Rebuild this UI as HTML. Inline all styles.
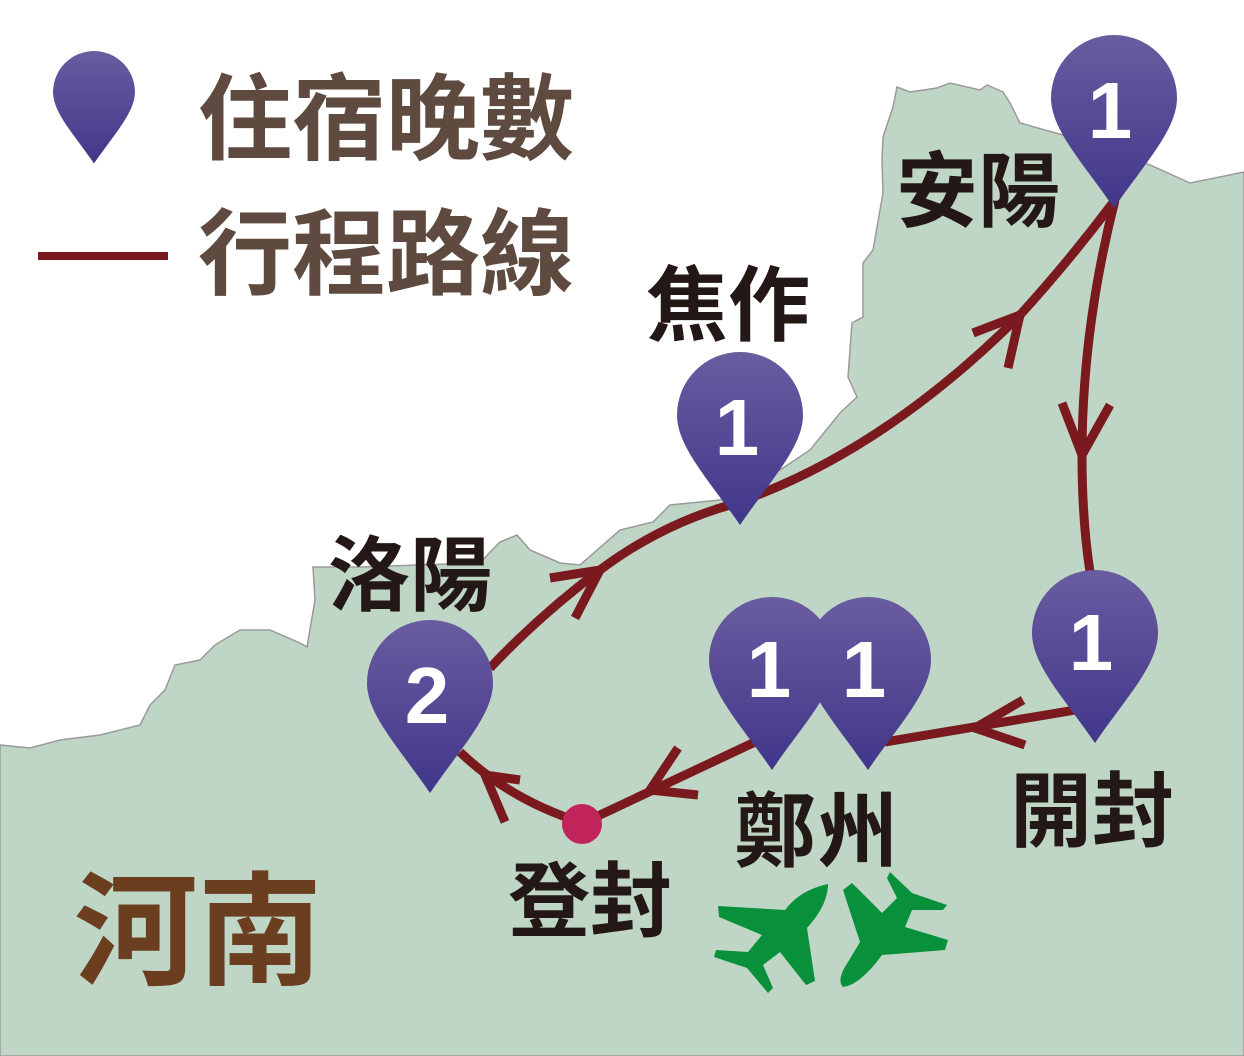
<!DOCTYPE html>
<html><head><meta charset="utf-8"><style>
html,body{margin:0;padding:0;background:#fff;}
svg{display:block;}
.t{font-family:"Liberation Sans","Noto Sans CJK TC",sans-serif;font-weight:bold;}
</style></head><body>
<svg width="1244" height="1056" viewBox="0 0 1244 1056" xmlns="http://www.w3.org/2000/svg">
<defs>
<linearGradient id="g" x1="0" y1="0" x2="0" y2="1">
<stop offset="0" stop-color="#6a5ca0"/><stop offset="1" stop-color="#42368a"/>
</linearGradient>
<path id="pin" d="M0,110 C-30,66 -63,32 -63,0 A63,63 0 1 1 63,0 C63,32 30,66 0,110 Z" fill="url(#g)"/>
</defs>
<path d="M0,745 L30,748 L60,740 L100,735 L140,725 L150,705 L165,690 L175,665 L200,660 L215,645 L240,630 L270,630 L300,643 L307,647 L315,600 L313,567 L360,567 L480,563 L492,550 L500,542 L517,535 L530,550 L560,563 L580,565 L620,530 L653,522 L670,505 L720,500 L780,470 L810,450 L840,413 L857,397 L848,377 L852,323 L863,317 L863,263 L873,250 L883,193 L882,160 L883,137 L893,107 L897,87 L910,92 L937,88 L950,83 L980,90 L987,85 L1003,92 L1010,103 L1020,123 L1070,137 L1120,155 L1150,165 L1190,183 L1205,180 L1244,172 L1244,1056 L0,1056 Z" fill="#bfd6c6" stroke="#9a9a9a" stroke-width="1.5"/>
<g fill="none" stroke="#7a1a1e" stroke-width="9" stroke-linecap="butt">
<path d="M490,668 Q540,615 600,570 Q660,525 730,505 Q880,455 1020,315 Q1070,260 1115,200"/>
<path d="M1115,200 Q1082,330 1082,455 Q1082,520 1090,572"/>
<path d="M1075,710 L885,742"/>
<path d="M755,742 L583,823"/>
<path d="M583,823 Q510,800 460,752"/>
<path d="M550,578 L600,570 L575,618"/>
<path d="M973,333 L1020,315 L1008,368"/>
<path d="M1062,403 L1082,455 L1110,405"/>
<path d="M1023,700 L975,728 L1025,745"/>
<path d="M678,748 L650,790 L698,795"/>
<path d="M520,780 L485,775 L505,822"/>
</g>
<circle cx="582" cy="824" r="20" fill="#c0245a"/>
<use href="#pin" x="1114" y="98"/>
<use href="#pin" x="740" y="415"/>
<use href="#pin" x="430" y="683"/>
<use href="#pin" x="868" y="660"/>
<use href="#pin" x="772" y="660"/>
<use href="#pin" x="1095" y="633"/>
<g class="t" fill="#fff" font-size="80" text-anchor="middle">
<text x="1110" y="138">1</text>
<text x="737" y="455">1</text>
<text x="427" y="723">2</text>
<text x="769" y="697">1</text>
<text x="864" y="697">1</text>
<text x="1091" y="670">1</text>
</g>
<g transform="translate(94,92) scale(0.65)"><use href="#pin"/></g>
<line x1="38" y1="256" x2="168" y2="256" stroke="#7a1a1e" stroke-width="8"/>
<g class="t" fill="#5e4a3e" font-size="94">
<text x="198" y="152">住宿晚數</text>
<text x="198" y="287">行程路線</text>
</g>
<g class="t" fill="#231815" font-size="82">
<text x="646" y="334">焦作</text>
<text x="896" y="220">安陽</text>
<text x="328" y="604">洛陽</text>
<text x="1010" y="840">開封</text>
<text x="734" y="860">鄭州</text>
<text x="508" y="930">登封</text>
</g>
<text class="t" x="74" y="975" fill="#6b3e20" font-size="124">河南</text>
<g fill="#08913a">
<path d="M828,884 Q800,890 785,910 L718,906 L719,917 L762,935 L748,952 L716,950 L714,957 L747,968 L768,993 L773,988 L763,965 L780,952 L806,985 L815,981 L807,928 Q828,905 828,884 Z"/>
<path d="M843,890 L852,883 L882,913 L897,898 L887,878 L890,872 L912,893 L947,905 L943,910 L912,910 L905,927 L948,940 L945,950 L882,955 Q860,985 843,987 Q836,980 848,962 L860,942 Z"/>
</g>
</svg>
</body></html>
